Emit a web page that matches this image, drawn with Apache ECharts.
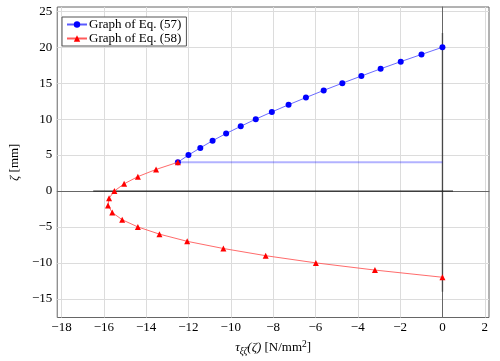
<!DOCTYPE html>
<html>
<head>
<meta charset="utf-8">
<script src="https://cdn.jsdelivr.net/npm/echarts@6/dist/echarts.min.js"></script>
<style>html,body{margin:0;padding:0;background:#fff}#c{width:500px;height:361px}</style>
</head>
<body>
<div id="c"></div>
<script>
// Eq. (57): zeta values and tau values
const zeta57 = [4,5,6,7,8,9,10,11,12,13,14,15,16,17,18,19,20];
const tau57 = [-12.5,-12.0,-11.44,-10.86,-10.22,-9.53,-8.82,-8.06,-7.27,-6.45,-5.61,-4.73,-3.83,-2.92,-1.97,-0.99,0];
// Eq. (58)
const zeta58 = [4,3,2,1,0,-1,-2,-3,-4,-5,-6,-7,-8,-9,-10,-11,-12];
const tau58 = [-12.5,-13.53,-14.39,-15.04,-15.5,-15.75,-15.8,-15.6,-15.13,-14.39,-13.37,-12.06,-10.35,-8.35,-5.98,-3.19,0];
// auxiliary lines
const hAxisLineX = [-16.5, 0.5];
const hAxisLineY = [0, 0];
const vAxisLineX = [0, 0];
const vAxisLineY = [-14, 22];
const blueLevelX = [-12.5, 0];
const blueLevelY = [4, 4];
// ticks
const xTicks = [-18,-16,-14,-12,-10,-8,-6,-4,-2,0,2];
const yTicks = [-15,-10,-5,0,5,10,15,20,25];
const xRange = [-18.2, 2.2];
const yRange = [-17.6, 25.6];
const legendNames = ['Graph of Eq. (57)', 'Graph of Eq. (58)'];

const pair = (xs, ys) => xs.map((x, i) => [x, ys[i]]);
const fontFamily = '"Liberation Serif", "DejaVu Serif", serif';
const fmt = v => String(v).replace('-', '\u2212');

const chart = echarts.init(document.getElementById('c'), null, {renderer: 'canvas'});
chart.setOption({
  animation: false,
  textStyle: {fontFamily: fontFamily},
  grid: {left: 50, right: 11, top: 7, bottom: 41, show: true, borderColor: '#666', borderWidth: 1, backgroundColor: '#fff'},
  legend: {
    data: legendNames,
    orient: 'vertical',
    left: 62, top: 17,
    backgroundColor: '#fff',
    borderColor: '#555', borderWidth: 1,
    padding: [1, 5, 1, 4],
    itemGap: 1,
    itemWidth: 20, itemHeight: 8,
    textStyle: {fontFamily: fontFamily, fontSize: 13, color: '#000', padding: [0,0,0,-3]}
  },
  xAxis: {
    type: 'value', min: xRange[0], max: xRange[1],
    axisLine: {show: true, lineStyle: {color: '#666', width: 1}},
    axisTick: {show: false, customValues: xTicks},
    axisLabel: {customValues: xTicks, formatter: fmt, color: '#000', fontSize: 13, margin: 4, fontFamily: fontFamily},
    splitLine: {show: true, lineStyle: {color: '#dcdcdc', width: 1}},
    name: '{i|τ}{s|ξζ}{i|(ζ)}{n| [N/mm}{p|2}{n|]}',
    nameLocation: 'middle', nameGap: 22,
    nameTextStyle: {
      color: '#000', fontSize: 13, fontFamily: fontFamily,
      rich: {
        i: {fontStyle: 'italic', fontSize: 13, fontFamily: fontFamily, color: '#000'},
        s: {fontStyle: 'italic', fontSize: 9.5, fontFamily: fontFamily, color: '#000', padding: [6,0,0,0]},
        n: {fontSize: 13, fontFamily: fontFamily, color: '#000'},
        p: {fontSize: 9.5, fontFamily: fontFamily, color: '#000', padding: [0,0,7,0]}
      }
    }
  },
  yAxis: {
    type: 'value', min: yRange[0], max: yRange[1],
    axisLine: {show: true, lineStyle: {color: '#666', width: 1}},
    axisTick: {show: false, customValues: yTicks},
    axisLabel: {customValues: yTicks, formatter: fmt, color: '#000', fontSize: 13, margin: 5, fontFamily: fontFamily},
    splitLine: {show: true, lineStyle: {color: '#dcdcdc', width: 1}},
    name: '{i|ζ}{n| [mm]}',
    nameLocation: 'middle', nameGap: 35, nameRotate: 90,
    nameTextStyle: {
      color: '#000', fontSize: 13, fontFamily: fontFamily,
      rich: {
        i: {fontStyle: 'italic', fontSize: 13, fontFamily: fontFamily, color: '#000'},
        n: {fontSize: 13, fontFamily: fontFamily, color: '#000'}
      }
    }
  },
  series: [
    {type: 'line', name: 'hAxis', data: pair(hAxisLineX, hAxisLineY), symbol: 'none', silent: true,
     lineStyle: {color: 'rgba(0,0,0,0.4)', width: 1.8}, z: 1},
    {type: 'line', name: 'vAxis', data: pair(vAxisLineX, vAxisLineY), symbol: 'none', silent: true,
     lineStyle: {color: 'rgba(0,0,0,0.3)', width: 1.8}, z: 1},
    {type: 'line', name: 'level', data: pair(blueLevelX, blueLevelY), symbol: 'none', silent: true,
     lineStyle: {color: 'rgba(0,0,255,0.3)', width: 2}, z: 1},
    {type: 'line', name: legendNames[0], data: pair(tau57, zeta57), symbol: 'circle', symbolSize: 6,
     itemStyle: {color: '#0000ff'}, lineStyle: {color: '#5a5aff', width: 0.9}, z: 3},
    {type: 'line', name: legendNames[1], data: pair(tau58, zeta58), symbol: 'triangle', symbolSize: 6,
     itemStyle: {color: '#ff0000'}, lineStyle: {color: '#ff5a5a', width: 0.9}, z: 4}
  ]
});
</script>
</body>
</html>
